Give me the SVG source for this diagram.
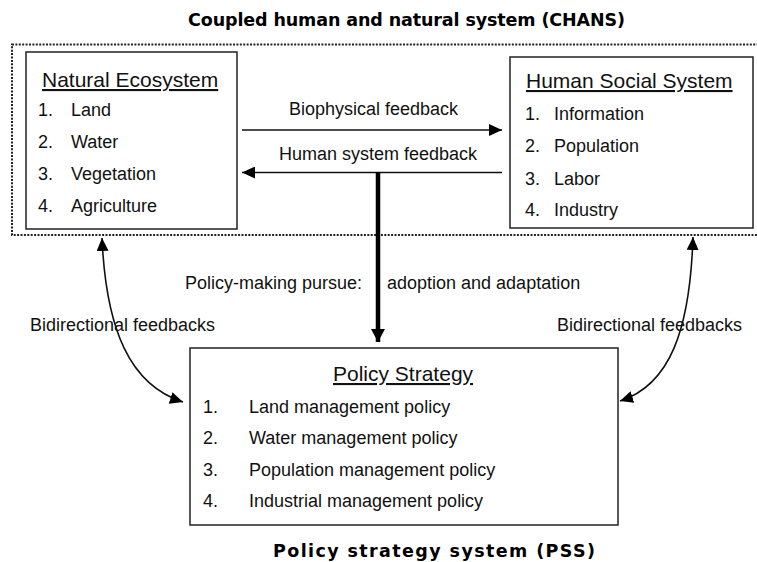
<svg xmlns="http://www.w3.org/2000/svg" width="757" height="562" viewBox="0 0 757 562">
  <style>
    .t { font-family: "Liberation Sans", Arial, sans-serif; font-size: 18px; fill: #111; }
    .h { font-family: "Liberation Sans", Arial, sans-serif; font-size: 21px; fill: #111; text-decoration: underline; }
    .b { font-family: "DejaVu Sans", Verdana, sans-serif; font-weight: bold; font-size: 17.5px; fill: #000; }
    .box { fill: #fff; stroke: #222; stroke-width: 1.5; }
    .thin { fill: none; stroke: #111; stroke-width: 1.6; }
  </style>
  <defs>
    <marker id="ah" markerUnits="userSpaceOnUse" markerWidth="13" markerHeight="12" refX="13" refY="6" orient="auto-start-reverse">
      <path d="M0,0 L13,6 L0,12 z" fill="#000"/>
    </marker>
    <marker id="ahBig" markerUnits="userSpaceOnUse" markerWidth="13" markerHeight="14" refX="13" refY="7" orient="auto">
      <path d="M0,0 L13,7 L0,14 z" fill="#000"/>
    </marker>
  </defs>

  <rect width="757" height="562" fill="#fff"/>

  <!-- CHANS boundary -->
  <g id="chans">
    <text class="b" x="188" y="26" textLength="437" lengthAdjust="spacing">Coupled human and natural system (CHANS)</text>
    <rect x="12" y="44.5" width="760" height="190.5" fill="none" stroke="#222" stroke-width="2" stroke-dasharray="2,1.4"/>
  </g>

  <!-- Natural Ecosystem -->
  <g id="natural-ecosystem">
    <rect class="box" x="26" y="52" width="211" height="177"/>
    <text class="h" x="42" y="87">Natural Ecosystem</text>
    <text class="t" x="38" y="116">1.</text><text class="t" x="71" y="116">Land</text>
    <text class="t" x="38" y="148">2.</text><text class="t" x="71" y="148">Water</text>
    <text class="t" x="38" y="180">3.</text><text class="t" x="71" y="180">Vegetation</text>
    <text class="t" x="38" y="212">4.</text><text class="t" x="71" y="212">Agriculture</text>
  </g>

  <!-- Human Social System -->
  <g id="human-social-system">
    <rect class="box" x="510" y="57" width="243" height="171"/>
    <text class="h" x="526" y="88">Human Social System</text>
    <text class="t" x="525" y="120">1.</text><text class="t" x="554" y="120">Information</text>
    <text class="t" x="525" y="152">2.</text><text class="t" x="554" y="152">Population</text>
    <text class="t" x="525" y="185">3.</text><text class="t" x="554" y="185">Labor</text>
    <text class="t" x="525" y="216">4.</text><text class="t" x="554" y="216">Industry</text>
  </g>

  <!-- Policy Strategy -->
  <g id="policy-strategy">
    <rect class="box" x="190" y="348" width="428" height="177"/>
    <text class="h" x="333" y="381">Policy Strategy</text>
    <text class="t" x="203" y="413">1.</text><text class="t" x="249" y="413">Land management policy</text>
    <text class="t" x="203" y="444">2.</text><text class="t" x="249" y="444">Water management policy</text>
    <text class="t" x="203" y="476">3.</text><text class="t" x="249" y="476">Population management policy</text>
    <text class="t" x="203" y="507">4.</text><text class="t" x="249" y="507">Industrial management policy</text>
    <text class="b" x="273" y="557" textLength="322" lengthAdjust="spacing">Policy strategy system (PSS)</text>
  </g>

  <!-- Connectors -->
  <g id="connectors">
    <line class="thin" x1="242" y1="130" x2="502" y2="130" marker-end="url(#ah)"/>
    <text class="t" x="289" y="115">Biophysical feedback</text>

    <line class="thin" x1="502" y1="172.5" x2="242" y2="172.5" marker-end="url(#ah)"/>
    <text class="t" x="279" y="160">Human system feedback</text>

    <line x1="378" y1="172" x2="378" y2="342" stroke="#000" stroke-width="4.5" marker-end="url(#ahBig)"/>
    <text class="t" x="185" y="289">Policy-making pursue:</text>
    <text class="t" x="387" y="289">adoption and adaptation</text>

    <path class="thin" d="M102,238 C106,330 130,385 183,402" marker-start="url(#ah)" marker-end="url(#ah)"/>
    <text class="t" x="30" y="331">Bidirectional feedbacks</text>

    <path class="thin" d="M693,237 C690,330 670,385 620,401" marker-start="url(#ah)" marker-end="url(#ah)"/>
    <text class="t" x="557" y="331">Bidirectional feedbacks</text>
  </g>
</svg>
